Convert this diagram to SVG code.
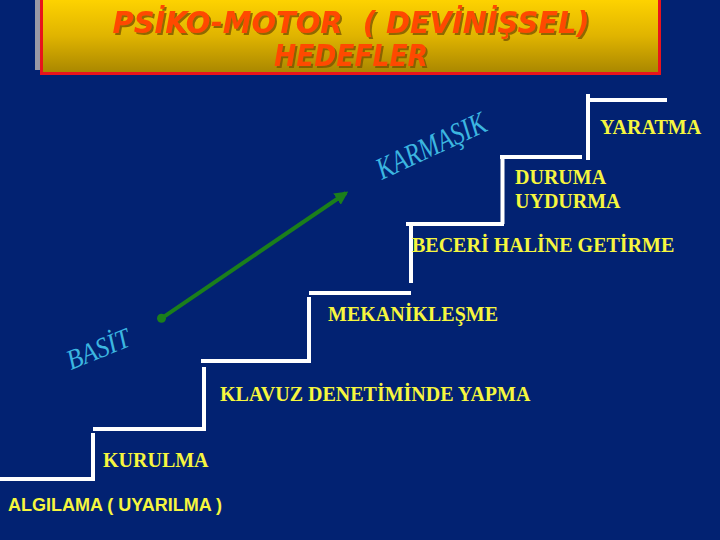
<svg xmlns="http://www.w3.org/2000/svg" width="720" height="540" viewBox="0 0 720 540">
  <defs>
    <linearGradient id="titleGrad" x1="0" y1="0" x2="0" y2="1">
      <stop offset="0" stop-color="#FFD400"/>
      <stop offset="0.5" stop-color="#E0B400"/>
      <stop offset="1" stop-color="#A88600"/>
    </linearGradient>
    <filter id="textShadow" x="-5%" y="-20%" width="110%" height="140%">
      <feDropShadow dx="2" dy="2" stdDeviation="0.4" flood-color="#7A5200" flood-opacity="0.8"/>
    </filter>
    <marker id="arrowHead" viewBox="0 0 10 10" refX="8" refY="5" markerWidth="3.4" markerHeight="3.4" orient="auto" markerUnits="strokeWidth">
      <path d="M0,0 L10,5 L0,10 Z" fill="#1B7F1B"/>
    </marker>
    <style>
      .step { stroke: #FFFFFF; stroke-width: 4; fill: none; }
      .lbl { font-family: "Liberation Serif", "Times New Roman", serif; font-weight: bold; font-size: 20px; fill: #F6F63E; }
      .lblSans { font-family: "Liberation Sans", Arial, sans-serif; font-weight: bold; font-size: 18px; fill: #F6F63E; }
      .slant { font-family: "Liberation Serif", "Times New Roman", serif; font-style: italic; fill: #3CB6E0; }
      .title { font-family: "DejaVu Sans", Verdana, sans-serif; font-weight: bold; font-style: italic; font-size: 31px; text-anchor: middle; fill: #FF4A00; filter: url(#textShadow); }
    </style>
  </defs>

  <rect x="0" y="0" width="720" height="540" fill="#022272"/>

  <g id="title">
    <rect x="35" y="-5" width="620" height="75" fill="#9A9AA6"/>
    <rect x="41.5" y="-2" width="618" height="75.5" fill="url(#titleGrad)" stroke="#E8141C" stroke-width="3"/>
    <text class="title" x="351" y="33" textLength="477" lengthAdjust="spacingAndGlyphs" xml:space="preserve">PSİKO-MOTOR  ( DEVİNİŞSEL)</text>
    <text class="title" x="351" y="66" textLength="154" lengthAdjust="spacingAndGlyphs">HEDEFLER</text>
  </g>

  <g id="step-algilama">
    <path class="step" d="M0,479 H95 M93,481 V433"/>
    <text class="lblSans" x="8" y="511">ALGILAMA ( UYARILMA )</text>
  </g>
  <g id="step-kurulma">
    <path class="step" d="M93,429 H206 M204,430 V367"/>
    <text class="lbl" x="103" y="467">KURULMA</text>
  </g>
  <g id="step-klavuz">
    <path class="step" d="M201,361 H311 M309,363 V297"/>
    <text class="lbl" x="220" y="401">KLAVUZ DENETİMİNDE YAPMA</text>
  </g>
  <g id="step-mekaniklesme">
    <path class="step" d="M309,293 H411 M411,283 V226"/>
    <text class="lbl" x="328" y="321">MEKANİKLEŞME</text>
  </g>
  <g id="step-beceri">
    <path class="step" d="M406,224 H504 M502.5,224 V157"/>
    <text class="lbl" x="412" y="252">BECERİ HALİNE GETİRME</text>
  </g>
  <g id="step-duruma">
    <path class="step" d="M500,157 H582 M588,160 V94"/>
    <text class="lbl" x="515" y="184">DURUMA</text>
    <text class="lbl" x="515" y="208">UYDURMA</text>
  </g>
  <g id="step-yaratma">
    <path class="step" d="M588,100 H667"/>
    <text class="lbl" x="600" y="134">YARATMA</text>
  </g>

  <g id="label-basit">
    <text class="slant" font-size="28" transform="translate(71,370) rotate(-22)" textLength="66" lengthAdjust="spacingAndGlyphs">BASİT</text>
  </g>
  <g id="label-karmasik">
    <text class="slant" font-size="31" transform="translate(382,180) rotate(-25)" textLength="118" lengthAdjust="spacingAndGlyphs">KARMAŞIK</text>
  </g>

  <g id="connectors">
    <line x1="161.5" y1="318.3" x2="346" y2="193" stroke="#1B7F1B" stroke-width="4" marker-end="url(#arrowHead)"/>
    <circle cx="161.5" cy="318.3" r="4.5" fill="#1B7F1B"/>
  </g>
</svg>
